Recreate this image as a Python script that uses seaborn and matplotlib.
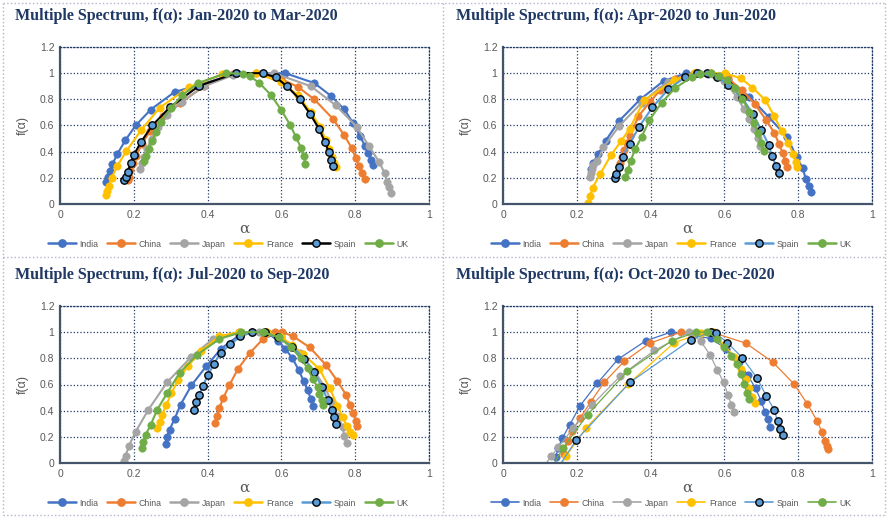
import matplotlib
matplotlib.use("Agg")
import matplotlib.pyplot as plt
import seaborn as sns
from matplotlib.lines import Line2D

# ---------------- datos (alpha, f(alpha)) ----------------
# Jan-2020 a Mar-2020
q1_india_a = [0.125, 0.129, 0.135, 0.142, 0.155, 0.177, 0.205, 0.246, 0.311, 0.372, 0.48, 0.61, 0.689, 0.734, 0.77, 0.795, 0.813, 0.826, 0.835, 0.842, 0.847]
q1_india_f = [0.17, 0.205, 0.255, 0.305, 0.38, 0.487, 0.6, 0.722, 0.857, 0.905, 1.0, 1.0, 0.925, 0.827, 0.725, 0.616, 0.52, 0.445, 0.39, 0.34, 0.30]
q1_china_a = [0.183, 0.186, 0.19, 0.198, 0.207, 0.222, 0.245, 0.28, 0.325, 0.39, 0.47, 0.53, 0.6, 0.645, 0.689, 0.74, 0.77, 0.79, 0.802, 0.81, 0.818, 0.826]
q1_china_f = [0.18, 0.21, 0.26, 0.31, 0.37, 0.46, 0.56, 0.67, 0.77, 0.9, 0.995, 1.0, 0.955, 0.895, 0.8, 0.65, 0.527, 0.43, 0.35, 0.29, 0.24, 0.19]
q1_japan_a = [0.218, 0.222, 0.228, 0.236, 0.248, 0.265, 0.29, 0.33, 0.39, 0.47, 0.58, 0.68, 0.748, 0.804, 0.838, 0.865, 0.88, 0.887, 0.892, 0.896]
q1_japan_f = [0.265, 0.31, 0.36, 0.42, 0.5, 0.59, 0.68, 0.78, 0.9, 0.985, 1.0, 0.9, 0.753, 0.59, 0.44, 0.32, 0.235, 0.17, 0.127, 0.087]
q1_france_a = [0.125, 0.128, 0.132, 0.14, 0.155, 0.18, 0.22, 0.27, 0.35, 0.44, 0.53, 0.6, 0.645, 0.68, 0.705, 0.72, 0.73, 0.737, 0.743, 0.747]
q1_france_f = [0.07, 0.1, 0.14, 0.2, 0.29, 0.405, 0.565, 0.735, 0.895, 0.99, 1.0, 0.93, 0.83, 0.7, 0.59, 0.49, 0.42, 0.36, 0.31, 0.28]
q1_spain_a = [0.174, 0.178, 0.183, 0.192, 0.2, 0.22, 0.25, 0.298, 0.377, 0.477, 0.55, 0.586, 0.615, 0.65, 0.678, 0.703, 0.718, 0.728, 0.735, 0.74]
q1_spain_f = [0.183, 0.21, 0.245, 0.31, 0.374, 0.476, 0.6, 0.74, 0.903, 1.0, 1.0, 0.967, 0.9, 0.8, 0.687, 0.57, 0.471, 0.4, 0.336, 0.288]
q1_uk_a = [0.228, 0.232, 0.24, 0.25, 0.26, 0.275, 0.3, 0.33, 0.375, 0.45, 0.495, 0.514, 0.54, 0.572, 0.6, 0.624, 0.64, 0.653, 0.66, 0.665]
q1_uk_f = [0.33, 0.37, 0.42, 0.48, 0.55, 0.63, 0.73, 0.83, 0.925, 1.0, 0.995, 0.977, 0.926, 0.832, 0.717, 0.603, 0.509, 0.43, 0.366, 0.305]

# Apr-2020 a Jun-2020
q2_india_a = [0.238, 0.244, 0.258, 0.278, 0.315, 0.372, 0.435, 0.497, 0.555, 0.61, 0.668, 0.72, 0.769, 0.796, 0.812, 0.821, 0.828, 0.835]
q2_india_f = [0.265, 0.316, 0.38, 0.483, 0.636, 0.80, 0.94, 1.0, 0.995, 0.95, 0.82, 0.665, 0.515, 0.36, 0.273, 0.189, 0.138, 0.094]
q2_china_a = [0.318, 0.322, 0.328, 0.336, 0.345, 0.367, 0.399, 0.426, 0.466, 0.52, 0.565, 0.61, 0.647, 0.683, 0.713, 0.735, 0.748, 0.758, 0.765, 0.771]
q2_china_f = [0.31, 0.36, 0.41, 0.465, 0.52, 0.672, 0.782, 0.872, 0.953, 1.0, 1.0, 0.96, 0.872, 0.762, 0.642, 0.545, 0.459, 0.387, 0.331, 0.285]
q2_japan_a = [0.236, 0.238, 0.241, 0.245, 0.256, 0.272, 0.315, 0.376, 0.446, 0.53, 0.6, 0.634, 0.654, 0.668, 0.679, 0.69, 0.697]
q2_japan_f = [0.205, 0.24, 0.27, 0.3, 0.325, 0.433, 0.596, 0.775, 0.935, 1.0, 0.94, 0.816, 0.724, 0.648, 0.571, 0.502, 0.443]
q2_france_a = [0.23, 0.236, 0.243, 0.263, 0.293, 0.32, 0.343, 0.383, 0.464, 0.518, 0.602, 0.645, 0.676, 0.711, 0.735, 0.755, 0.773, 0.787, 0.794, 0.797]
q2_france_f = [0.005, 0.061, 0.125, 0.227, 0.375, 0.48, 0.575, 0.794, 0.946, 1.0, 1.0, 0.96, 0.89, 0.794, 0.672, 0.56, 0.463, 0.382, 0.318, 0.285]
q2_spain_a = [0.304, 0.306, 0.314, 0.324, 0.343, 0.369, 0.405, 0.448, 0.494, 0.525, 0.552, 0.58, 0.611, 0.649, 0.677, 0.7, 0.72, 0.729, 0.74, 0.747]
q2_spain_f = [0.195, 0.227, 0.285, 0.362, 0.459, 0.591, 0.739, 0.877, 0.969, 1.0, 1.0, 0.969, 0.91, 0.808, 0.688, 0.566, 0.451, 0.367, 0.29, 0.24]
q2_uk_a = [0.331, 0.338, 0.346, 0.358, 0.376, 0.397, 0.43, 0.466, 0.511, 0.535, 0.563, 0.585, 0.607, 0.629, 0.649, 0.668, 0.681, 0.69, 0.7, 0.707]
q2_uk_f = [0.205, 0.26, 0.33, 0.418, 0.515, 0.642, 0.775, 0.885, 0.969, 0.995, 1.0, 0.98, 0.948, 0.885, 0.8, 0.706, 0.617, 0.54, 0.469, 0.407]

# Jul-2020 a Sep-2020
q3_india_a = [0.286, 0.29, 0.297, 0.311, 0.327, 0.356, 0.397, 0.437, 0.486, 0.52, 0.565, 0.59, 0.61, 0.63, 0.647, 0.66, 0.671, 0.68, 0.686]
q3_india_f = [0.145, 0.196, 0.255, 0.34, 0.447, 0.593, 0.742, 0.875, 0.977, 1.0, 0.99, 0.935, 0.875, 0.8, 0.71, 0.628, 0.557, 0.489, 0.438]
q3_china_a = [0.419, 0.425, 0.432, 0.443, 0.459, 0.482, 0.514, 0.55, 0.584, 0.602, 0.631, 0.677, 0.721, 0.752, 0.775, 0.786, 0.795, 0.802, 0.806]
q3_china_f = [0.305, 0.361, 0.42, 0.5, 0.595, 0.718, 0.84, 0.947, 1.0, 1.0, 0.97, 0.883, 0.748, 0.626, 0.522, 0.445, 0.38, 0.323, 0.28]
q3_japan_a = [0.173, 0.178, 0.187, 0.205, 0.239, 0.29, 0.356, 0.414, 0.485, 0.54, 0.6, 0.65, 0.69, 0.72, 0.734, 0.752, 0.766, 0.77, 0.777]
q3_japan_f = [0.018, 0.056, 0.132, 0.239, 0.405, 0.616, 0.812, 0.947, 1.0, 1.0, 0.96, 0.84, 0.70, 0.57, 0.476, 0.36, 0.278, 0.209, 0.155]
q3_france_a = [0.264, 0.27, 0.277, 0.288, 0.302, 0.32, 0.347, 0.383, 0.432, 0.486, 0.56, 0.6, 0.63, 0.658, 0.703, 0.731, 0.752, 0.766, 0.777, 0.786, 0.793]
q3_france_f = [0.267, 0.316, 0.369, 0.445, 0.532, 0.636, 0.743, 0.857, 0.97, 1.0, 1.0, 0.96, 0.9, 0.833, 0.719, 0.571, 0.438, 0.349, 0.285, 0.239, 0.214]
q3_spain_a = [0.363, 0.369, 0.377, 0.387, 0.401, 0.417, 0.435, 0.462, 0.489, 0.521, 0.556, 0.59, 0.63, 0.662, 0.689, 0.71, 0.725, 0.737, 0.743, 0.749]
q3_spain_f = [0.407, 0.463, 0.519, 0.59, 0.672, 0.756, 0.84, 0.908, 0.967, 1.0, 1.0, 0.96, 0.89, 0.795, 0.693, 0.579, 0.484, 0.405, 0.349, 0.298]
q3_uk_a = [0.223, 0.225, 0.232, 0.246, 0.263, 0.29, 0.324, 0.371, 0.432, 0.491, 0.55, 0.593, 0.626, 0.653, 0.671, 0.685, 0.698, 0.703, 0.709, 0.714]
q3_uk_f = [0.112, 0.158, 0.214, 0.293, 0.405, 0.533, 0.688, 0.826, 0.948, 1.0, 1.0, 0.961, 0.885, 0.8, 0.724, 0.642, 0.579, 0.527, 0.484, 0.443]

# Oct-2020 a Dec-2020
q4_india_a = [0.143, 0.149, 0.161, 0.181, 0.209, 0.256, 0.312, 0.387, 0.455, 0.563, 0.604, 0.64, 0.663, 0.685, 0.699, 0.71, 0.717, 0.724]
q4_india_f = [0.043, 0.112, 0.191, 0.293, 0.438, 0.611, 0.794, 0.934, 1.0, 0.952, 0.875, 0.77, 0.67, 0.57, 0.476, 0.392, 0.336, 0.277]
q4_china_a = [0.165, 0.176, 0.188, 0.208, 0.238, 0.274, 0.328, 0.398, 0.482, 0.565, 0.658, 0.731, 0.789, 0.825, 0.851, 0.864, 0.873, 0.877, 0.88]
q4_china_f = [0.07, 0.17, 0.247, 0.341, 0.468, 0.616, 0.776, 0.916, 1.0, 1.0, 0.916, 0.771, 0.603, 0.45, 0.323, 0.239, 0.17, 0.132, 0.107]
q4_japan_a = [0.11, 0.13, 0.15, 0.19, 0.24, 0.318, 0.41, 0.505, 0.536, 0.561, 0.581, 0.598, 0.61, 0.619, 0.627]
q4_japan_f = [-0.03, 0.05, 0.12, 0.265, 0.44, 0.665, 0.86, 1.0, 0.93, 0.827, 0.71, 0.616, 0.519, 0.445, 0.387]
q4_france_a = [0.155, 0.172, 0.224, 0.34, 0.464, 0.536, 0.572, 0.6, 0.627, 0.645, 0.658, 0.667, 0.676, 0.682]
q4_france_f = [-0.02, 0.056, 0.265, 0.605, 0.92, 0.99, 1.0, 0.9, 0.814, 0.718, 0.64, 0.57, 0.501, 0.458]
q4_spain_a = [0.15, 0.199, 0.344, 0.509, 0.563, 0.577, 0.608, 0.649, 0.688, 0.714, 0.735, 0.744, 0.751, 0.758]
q4_spain_f = [-0.03, 0.176, 0.616, 0.942, 1.0, 0.99, 0.921, 0.802, 0.651, 0.511, 0.405, 0.321, 0.26, 0.216]
q4_uk_a = [0.135, 0.163, 0.229, 0.337, 0.457, 0.523, 0.554, 0.581, 0.598, 0.618, 0.634, 0.645, 0.654, 0.66, 0.667]
q4_uk_f = [-0.02, 0.115, 0.369, 0.7, 0.934, 1.0, 1.0, 0.947, 0.89, 0.82, 0.756, 0.679, 0.603, 0.534, 0.489]

titulos = ["Multiple Spectrum, f(α): Jan-2020 to Mar-2020",
           "Multiple Spectrum, f(α): Apr-2020 to Jun-2020",
           "Multiple Spectrum, f(α): Jul-2020 to Sep-2020",
           "Multiple Spectrum, f(α): Oct-2020 to Dec-2020"]
paises = ["India", "China", "Japan", "France", "Spain", "UK"]

colores = {"India": "#4472C4", "China": "#ED7D31", "Japan": "#A5A5A5",
           "France": "#FFC000", "Spain": "#5B9BD5", "UK": "#70AD47"}

paneles = [
    [(q1_india_a, q1_india_f), (q1_china_a, q1_china_f), (q1_japan_a, q1_japan_f),
     (q1_france_a, q1_france_f), (q1_spain_a, q1_spain_f), (q1_uk_a, q1_uk_f)],
    [(q2_india_a, q2_india_f), (q2_china_a, q2_china_f), (q2_japan_a, q2_japan_f),
     (q2_france_a, q2_france_f), (q2_spain_a, q2_spain_f), (q2_uk_a, q2_uk_f)],
    [(q3_india_a, q3_india_f), (q3_china_a, q3_china_f), (q3_japan_a, q3_japan_f),
     (q3_france_a, q3_france_f), (q3_spain_a, q3_spain_f), (q3_uk_a, q3_uk_f)],
    [(q4_india_a, q4_india_f), (q4_china_a, q4_china_f), (q4_japan_a, q4_japan_f),
     (q4_france_a, q4_france_f), (q4_spain_a, q4_spain_f), (q4_uk_a, q4_uk_f)],
]

sns.set_theme(style="white")
plt.rcParams["font.family"] = ["Liberation Sans", "DejaVu Sans"]

fig = plt.figure(figsize=(8.88, 5.18), dpi=100)

W, H = 888.0, 518.0
# (x pixel del 0, y pixel del eje inferior) de cada panel
origenes = [(60, 204), (503, 204), (60, 463), (503, 463)]
origen_titulo = [(15, 16), (456, 16), (15, 275), (456, 275)]
ancho_px, alto_px = 369.0, 157.0


def dibujar_panel(ax, series, spain_negro, lw, ms):
    for nombre, (a, f) in zip(paises, series):
        c = colores[nombre]
        ec = c
        linea = c
        if nombre == "Spain":
            ec = "black"
            if spain_negro:
                linea = "black"
        sns.lineplot(x=a, y=f, sort=False, estimator=None, ax=ax, color=linea,
                     linewidth=lw, marker="o", markersize=ms,
                     markerfacecolor=c, markeredgecolor=ec,
                     markeredgewidth=1.0 if nombre == "Spain" else 0.5)

    ax.set_xlim(0, 1)
    ax.set_ylim(0, 1.2)
    ax.set_xticks([0, 0.2, 0.4, 0.6, 0.8, 1])
    ax.set_xticklabels(["0", "0.2", "0.4", "0.6", "0.8", "1"])
    ax.set_yticks([0, 0.2, 0.4, 0.6, 0.8, 1, 1.2])
    ax.set_yticklabels(["0", "0.2", "0.4", "0.6", "0.8", "1", "1.2"])
    ax.tick_params(length=0, labelsize=7.5, labelcolor="#595959", pad=4)
    ax.grid(True, color="#1F3864", linestyle=":", linewidth=0.9)
    for s in ["top", "right"]:
        ax.spines[s].set_linestyle(":")
        ax.spines[s].set_color("#1F3864")
        ax.spines[s].set_linewidth(0.9)
    for s in ["left", "bottom"]:
        ax.spines[s].set_color("#44546A")
        ax.spines[s].set_linewidth(1.6)
    ax.set_xlabel("α", fontsize=11, color="#595959", family=["DejaVu Serif"])
    ax.set_ylabel("f(α)", fontsize=9, color="#595959")
    ax.xaxis.set_label_coords(0.5, -0.115)
    ax.yaxis.set_label_coords(-0.085, 0.5)

    handles = []
    for nombre in paises:
        c = colores[nombre]
        linea = c
        ec = c
        if nombre == "Spain":
            ec = "black"
            if spain_negro:
                linea = "black"
        handles.append(Line2D([0], [0], color=linea, lw=lw + 0.3, marker="o", markersize=ms,
                              markerfacecolor=c, markeredgecolor=ec))
    leg = ax.legend(handles, paises, loc="center", bbox_to_anchor=(0.455, -0.255), ncol=6,
                    frameon=False, fontsize=6.3, handlelength=3.2, columnspacing=1.0,
                    handletextpad=0.4)
    for t in leg.get_texts():
        t.set_color("#595959")


for i, series in enumerate(paneles):
    x0, y0 = origenes[i]
    ax = fig.add_axes([x0 / W, 1 - y0 / H, ancho_px / W, alto_px / H])
    dibujar_panel(ax, series, spain_negro=(i == 0),
                  lw=0.9 if i == 3 else 1.5, ms=5.3)
    tx, ty = origen_titulo[i]
    fig.text(tx / W, 1 - ty / H, titulos[i], ha="left", va="center",
             family=["Liberation Serif", "DejaVu Serif"], fontweight="bold",
             fontsize=11.5, color="#1F3864")

# marcos punteados de los paneles
for xs, ys in [([3, 885], [3, 3]), ([3, 885], [257, 257]), ([3, 885], [515, 515]),
               ([3, 3], [3, 515]), ([443, 443], [3, 515]), ([885, 885], [3, 515])]:
    fig.add_artist(Line2D([v / W for v in xs], [1 - v / H for v in ys],
                          color="#B4B4C8", linestyle=":", linewidth=1.0))

fig.savefig("out.png", dpi=100)
